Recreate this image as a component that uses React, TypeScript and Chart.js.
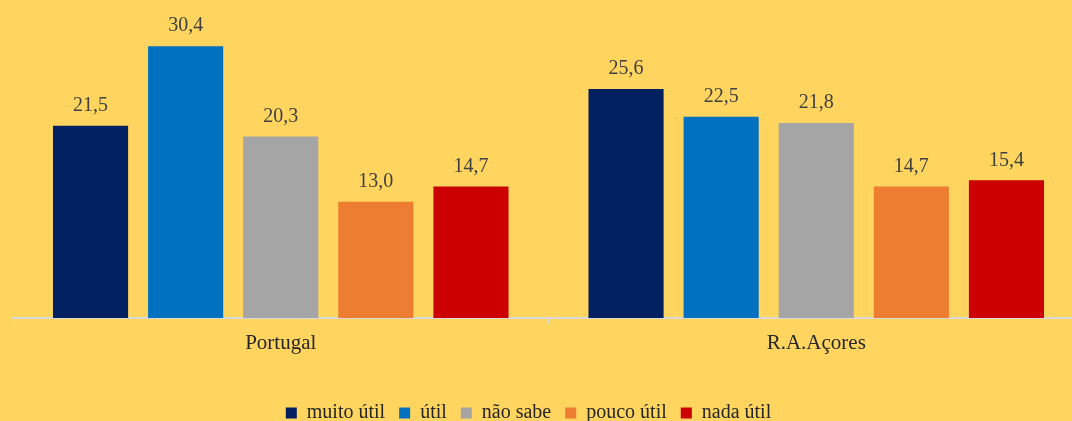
import React, { useEffect, useRef } from "react";
import { Chart, registerables } from "chart.js";

Chart.register(...registerables);

const categories = ["Portugal", "R.A.Açores"];
const seriesNames = ["muito útil", "útil", "não sabe", "pouco útil", "nada útil"];
const muitoUtil = [21.5, 25.6];
const util = [30.4, 22.5];
const naoSabe = [20.3, 21.8];
const poucoUtil = [13.0, 14.7];
const nadaUtil = [14.7, 15.4];
const seriesColors = ["#002060", "#0070C0", "#A5A5A5", "#ED7D31", "#CC0000"];

const FONT = "'Liberation Serif', 'DejaVu Serif', serif";

const valueLabels = {
  id: "valueLabels",
  afterDatasetsDraw(chart: any) {
    const ctx = chart.ctx;
    ctx.save();
    ctx.font = `20px ${FONT}`;
    ctx.fillStyle = "#404040";
    ctx.textAlign = "center";
    ctx.textBaseline = "middle";
    chart.data.datasets.forEach((ds: any, i: number) => {
      const meta = chart.getDatasetMeta(i);
      meta.data.forEach((el: any, j: number) => {
        const v = ds.data[j] as number;
        ctx.fillText(v.toFixed(1).replace(".", ","), el.x, el.y - 20);
      });
    });
    ctx.restore();
  },
};

const legendShift = {
  id: "legendShift",
  afterLayout(chart: any) {
    const lg = chart.legend;
    if (lg) {
      lg.left -= 20;
      lg.right -= 20;
    }
  },
};

export default function App() {
  const ref = useRef<HTMLCanvasElement | null>(null);
  useEffect(() => {
    document.body.style.margin = "0";
    let chart: Chart | null = null;
    let cancelled = false;
    const build = () => {
      if (cancelled || !ref.current) return;
      const all = [muitoUtil, util, naoSabe, poucoUtil, nadaUtil];
      chart = new Chart(ref.current, {
        type: "bar",
        data: {
          labels: categories,
          datasets: all.map((d, i) => ({
            label: seriesNames[i],
            data: d,
            backgroundColor: seriesColors[i],
            categoryPercentage: 0.888,
            barPercentage: 0.79,
          })),
        },
        options: {
          animation: false,
          responsive: false,
          maintainAspectRatio: false,
          layout: { padding: { top: 5, left: 13, right: 6, bottom: 0 } },
          plugins: {
            tooltip: { enabled: false },
            legend: {
              position: "bottom",
              labels: {
                font: { family: FONT, size: 20 },
                color: "#262626",
                boxWidth: 11,
                boxHeight: 11,
                padding: 14,
              },
            },
          },
          scales: {
            x: {
              afterFit: (scale: any) => {
                scale.height = 71;
              },
              grid: {
                offset: true,
                drawOnChartArea: false,
                tickLength: 6,
                color: "#D9D9D9",
              },
              border: { color: "#D9D9D9", width: 2 },
              ticks: {
                font: { family: FONT, size: 21 },
                color: "#262626",
                padding: 7,
              },
            },
            y: {
              display: false,
              min: 0,
              max: 35,
            },
          },
        },
        plugins: [valueLabels, legendShift],
      });
    };
    const fonts: any = (document as any).fonts;
    if (fonts && fonts.load) {
      Promise.all([
        fonts.load("20px 'Liberation Serif'"),
        fonts.load("21px 'Liberation Serif'"),
      ])
        .catch(() => null)
        .then(build);
    } else {
      build();
    }
    return () => {
      cancelled = true;
      if (chart) chart.destroy();
    };
  }, []);
  return (
    <div
      style={{
        width: 1072,
        height: 421,
        overflow: "hidden",
        background: "#FFD55F",
        position: "relative",
      }}
    >
      <canvas ref={ref} width={1090} height={433} style={{ display: "block" }} />
    </div>
  );
}
